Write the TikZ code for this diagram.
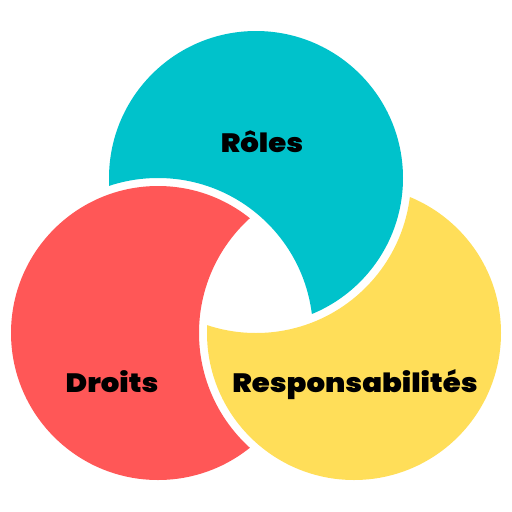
\documentclass[tikz,border=0pt]{standalone}
\usepackage{fontspec}
\newfontfamily\heavy{Poppins Black}[FakeStretch=1.1]
\definecolor{tealc}{HTML}{00C2CB}
\definecolor{redc}{HTML}{FF5757}
\definecolor{yelc}{HTML}{FFDE59}
\begin{document}
\begin{tikzpicture}[x=1pt,y=-1pt,
  lbl/.style={font=\heavy\fontsize{26.5}{26.5}\selectfont, text=black, anchor=base, inner sep=0pt}]
\useasboundingbox (0,0) rectangle (512,512);
\coordinate (T) at (256,178);
\coordinate (R) at (158,333);
\coordinate (Y) at (354,333);
\def\rad{147pt}
\def\cut{155pt}
% teal circle minus enlarged red circle
\begin{scope}[even odd rule]
  \clip (-20,-20) rectangle (540,540) (R) circle (\cut);
  \fill[tealc] (T) circle (\rad);
\end{scope}
% red circle minus enlarged yellow circle
\begin{scope}[even odd rule]
  \clip (-20,-20) rectangle (540,540) (Y) circle (\cut);
  \fill[redc] (R) circle (\rad);
\end{scope}
% yellow circle minus enlarged teal circle
\begin{scope}[even odd rule]
  \clip (-20,-20) rectangle (540,540) (T) circle (\cut);
  \fill[yelc] (Y) circle (\rad);
\end{scope}
\node[lbl] (roles) at (262,152) {Rôles};
\node[lbl] (droits) at (112,392) {Droits};
\node[lbl] (resp) at (355,392) {Responsabilités};
\end{tikzpicture}
\end{document}
